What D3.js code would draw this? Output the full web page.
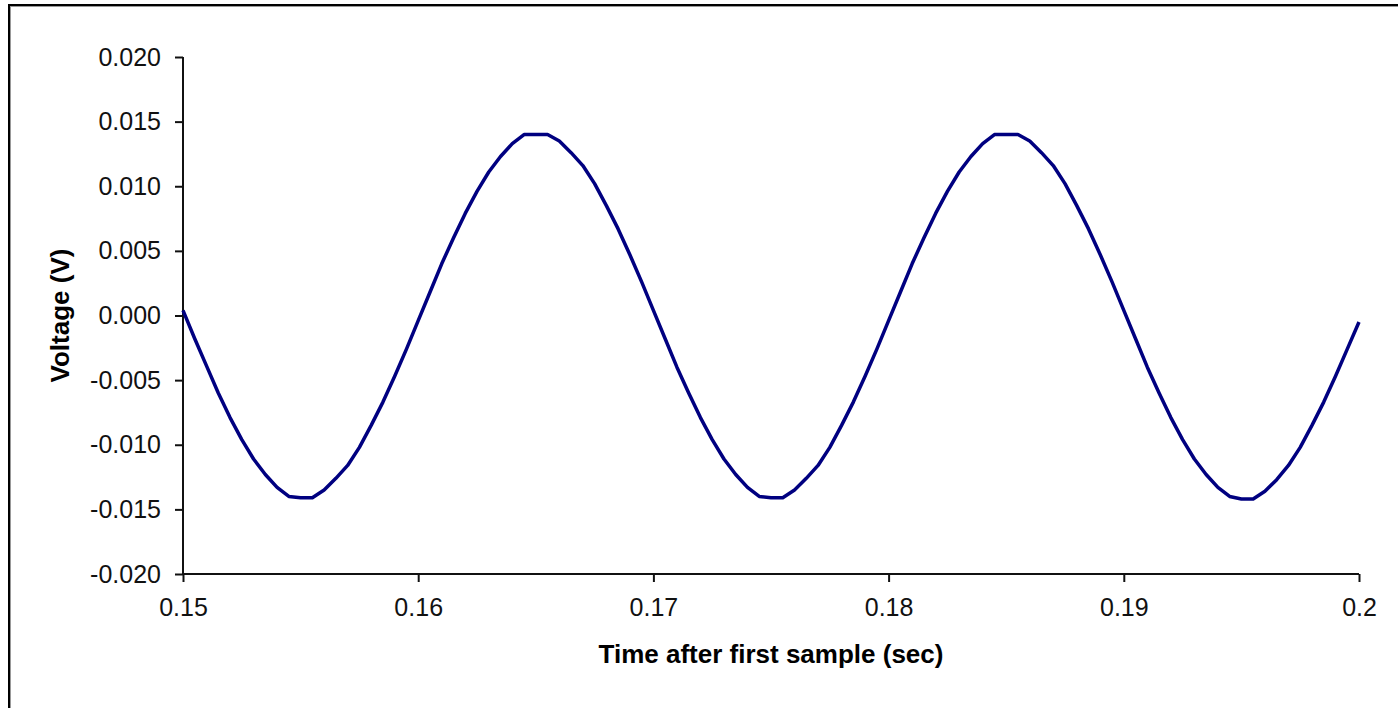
<!DOCTYPE html>
<html>
<head>
<meta charset="utf-8">
<script src="https://cdn.jsdelivr.net/npm/d3@7/dist/d3.min.js"></script>
<style>
  html, body { margin: 0; padding: 0; background: #fff; }
  svg { display: block; }
  text { font-family: "Liberation Sans", Arial, sans-serif; }
</style>
</head>
<body>
<svg id="chart" width="1398" height="708"></svg>
<script>
// ---- data ----
const times = [
  0.1500, 0.1505, 0.1510, 0.1515, 0.1520, 0.1525, 0.1530, 0.1535, 0.1540, 0.1545,
  0.1550, 0.1555, 0.1560, 0.1565, 0.1570, 0.1575, 0.1580, 0.1585, 0.1590, 0.1595,
  0.1600, 0.1605, 0.1610, 0.1615, 0.1620, 0.1625, 0.1630, 0.1635, 0.1640, 0.1645,
  0.1650, 0.1655, 0.1660, 0.1665, 0.1670, 0.1675, 0.1680, 0.1685, 0.1690, 0.1695,
  0.1700, 0.1705, 0.1710, 0.1715, 0.1720, 0.1725, 0.1730, 0.1735, 0.1740, 0.1745,
  0.1750, 0.1755, 0.1760, 0.1765, 0.1770, 0.1775, 0.1780, 0.1785, 0.1790, 0.1795,
  0.1800, 0.1805, 0.1810, 0.1815, 0.1820, 0.1825, 0.1830, 0.1835, 0.1840, 0.1845,
  0.1850, 0.1855, 0.1860, 0.1865, 0.1870, 0.1875, 0.1880, 0.1885, 0.1890, 0.1895,
  0.1900, 0.1905, 0.1910, 0.1915, 0.1920, 0.1925, 0.1930, 0.1935, 0.1940, 0.1945,
  0.1950, 0.1955, 0.1960, 0.1965, 0.1970, 0.1975, 0.1980, 0.1985, 0.1990, 0.1995,
  0.2000
];
const voltage = [
   0.0004, -0.0018, -0.0039, -0.0060, -0.0079, -0.0096, -0.0111, -0.0123, -0.0133, -0.0140,
  -0.0141, -0.0141, -0.0135, -0.0126, -0.0116, -0.0102, -0.0085, -0.0067, -0.0047, -0.0026,
  -0.0004,  0.0018,  0.0040,  0.0060,  0.0079,  0.0096,  0.0111,  0.0123,  0.0133,  0.0140,
   0.0140,  0.0140,  0.0135,  0.0126,  0.0116,  0.0102,  0.0085,  0.0067,  0.0047,  0.0026,
   0.0004, -0.0018, -0.0040, -0.0060, -0.0079, -0.0096, -0.0111, -0.0123, -0.0133, -0.0140,
  -0.0141, -0.0141, -0.0135, -0.0126, -0.0116, -0.0102, -0.0085, -0.0067, -0.0047, -0.0026,
  -0.0004,  0.0018,  0.0040,  0.0060,  0.0079,  0.0096,  0.0111,  0.0123,  0.0133,  0.0140,
   0.0140,  0.0140,  0.0135,  0.0126,  0.0116,  0.0102,  0.0085,  0.0067,  0.0047,  0.0026,
   0.0004, -0.0018, -0.0040, -0.0060, -0.0079, -0.0096, -0.0111, -0.0123, -0.0133, -0.0140,
  -0.0142, -0.0142, -0.0136, -0.0127, -0.0116, -0.0102, -0.0085, -0.0067, -0.0047, -0.0026,
  -0.0005
];
const xTicks = [0.15, 0.16, 0.17, 0.18, 0.19, 0.2];
const xTickLabels = ["0.15", "0.16", "0.17", "0.18", "0.19", "0.2"];
const yTicks = [-0.020, -0.015, -0.010, -0.005, 0.000, 0.005, 0.010, 0.015, 0.020];
const yTickLabels = ["-0.020", "-0.015", "-0.010", "-0.005", "0.000", "0.005", "0.010", "0.015", "0.020"];
const xTitle = "Time after first sample (sec)";
const yTitle = "Voltage (V)";

// ---- layout ----
const svg = d3.select("#chart");
const plot = { left: 183, right: 1359, top: 57, bottom: 574 };

// outer chart border
svg.append("rect")
  .attr("x", 10.5).attr("y", 6.5).attr("width", 1420).attr("height", 740)
  .attr("fill", "none").attr("stroke", "#999").attr("stroke-width", 1);
svg.append("rect")
  .attr("x", 9).attr("y", 5).attr("width", 1420).attr("height", 740)
  .attr("fill", "none").attr("stroke", "#000").attr("stroke-width", 2);

const x = d3.scaleLinear().domain([0.15, 0.2]).range([plot.left, plot.right]);
const y = d3.scaleLinear().domain([-0.02, 0.02]).range([plot.bottom, plot.top]);

// y axis
const yAxis = svg.append("g")
  .attr("transform", `translate(${plot.left},0)`)
  .call(d3.axisLeft(y).tickValues(yTicks).tickSize(8).tickPadding(14)
    .tickFormat((d, i) => yTickLabels[i]));
// x axis
const xAxis = svg.append("g")
  .attr("transform", `translate(0,${plot.bottom})`)
  .call(d3.axisBottom(x).tickValues(xTicks).tickSize(8).tickPadding(16)
    .tickFormat((d, i) => xTickLabels[i]));

[yAxis, xAxis].forEach(g => {
  g.select(".domain").attr("stroke", "#111").attr("stroke-width", 2);
  g.selectAll(".tick line").attr("stroke", "#111").attr("stroke-width", 2);
  g.selectAll(".tick text")
    .attr("fill", "#111")
    .style("font-family", '"Liberation Sans", Arial, sans-serif')
    .style("font-size", "25px");
});
yAxis.select(".domain").attr("d", `M0,${plot.top}V${plot.bottom}`);
xAxis.select(".domain").attr("d", `M${plot.left},0H${plot.right}`);

// line
const line = d3.line()
  .x((d, i) => x(times[i]))
  .y(d => y(d));
svg.append("path")
  .datum(voltage)
  .attr("d", line)
  .attr("fill", "none")
  .attr("stroke", "#000080")
  .attr("stroke-width", 3.5)
  .attr("stroke-linejoin", "round");

// axis titles
svg.append("text")
  .attr("x", (plot.left + plot.right) / 2)
  .attr("y", 663)
  .attr("text-anchor", "middle")
  .style("font-size", "26px")
  .style("font-weight", "bold")
  .attr("fill", "#000")
  .text(xTitle);

svg.append("text")
  .attr("transform", `translate(69,${(plot.top + plot.bottom) / 2}) rotate(-90)`)
  .attr("text-anchor", "middle")
  .style("font-size", "26px")
  .style("font-weight", "bold")
  .attr("fill", "#000")
  .text(yTitle);
</script>
</body>
</html>
